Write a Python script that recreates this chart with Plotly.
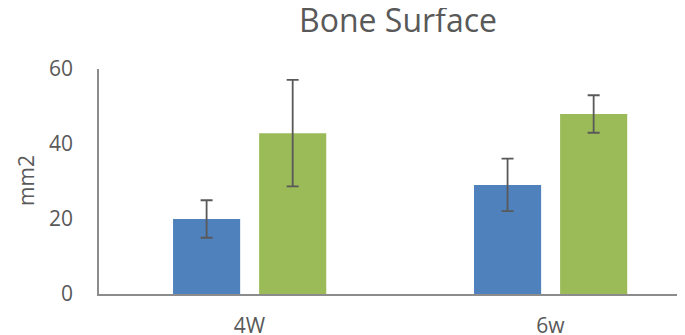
import plotly.graph_objects as go

categories = ["4W", "6w"]
series_a = [20.0, 29.1]
series_a_err = [5.0, 7.0]
series_b = [42.9, 48.0]
series_b_err = [14.2, 5.0]
y_ticks = [0, 20, 40, 60]

text_color = "#595959"
axis_color = "#8c8c8c"
font = "Open Sans"

# page body has an 8px margin; figure sized so the page matches 685x335
W, H = 677, 327
L, T, B = 91, 61, 41

fig = go.Figure()
fig.add_trace(go.Bar(
    x=categories, y=series_a, width=0.223, offset=-0.254,
    marker=dict(color="#4F81BD", line=dict(width=0)),
    error_y=dict(type="data", array=series_a_err, visible=True,
                 color=text_color, thickness=1.8, width=6),
    showlegend=False,
))
fig.add_trace(go.Bar(
    x=categories, y=series_b, width=0.223, offset=0.032,
    marker=dict(color="#9BBB59", line=dict(width=0)),
    error_y=dict(type="data", array=series_b_err, visible=True,
                 color=text_color, thickness=1.8, width=6),
    showlegend=False,
))

plot_w = W - L
plot_h = H - T - B

fig.update_layout(
    width=W, height=H,
    margin=dict(l=L, r=0, t=T, b=B),
    paper_bgcolor="white", plot_bgcolor="white",
    barmode="overlay",
    font=dict(family=font, color=text_color, size=21),
    title=dict(text="Bone Surface", x=390/W, xanchor="center",
               y=1 - 13/H, yanchor="middle",
               font=dict(family=font, size=32, color=text_color)),
    xaxis=dict(
        type="category", range=[-0.5, 1.447],
        showline=True, linecolor=axis_color, linewidth=2,
        showgrid=False, ticks="", ticklabelstandoff=12, automargin=False,
        tickfont=dict(size=21, color=text_color),
    ),
    yaxis=dict(
        range=[0, 60], tickvals=y_ticks,
        showline=True, linecolor=axis_color, linewidth=1.5,
        showgrid=False, zeroline=False, ticks="", ticklabelstandoff=20,
        automargin=False,
        tickfont=dict(size=21, color=text_color),
    ),
    annotations=[dict(
        text="mm2", textangle=-90, showarrow=False,
        xref="paper", yref="paper",
        x=(18 - L) / plot_w, y=(H - B - 173) / plot_h,
        xanchor="center", yanchor="middle",
        font=dict(family=font, size=21, color=text_color),
    )],
)

fig.write_html("out.html")
